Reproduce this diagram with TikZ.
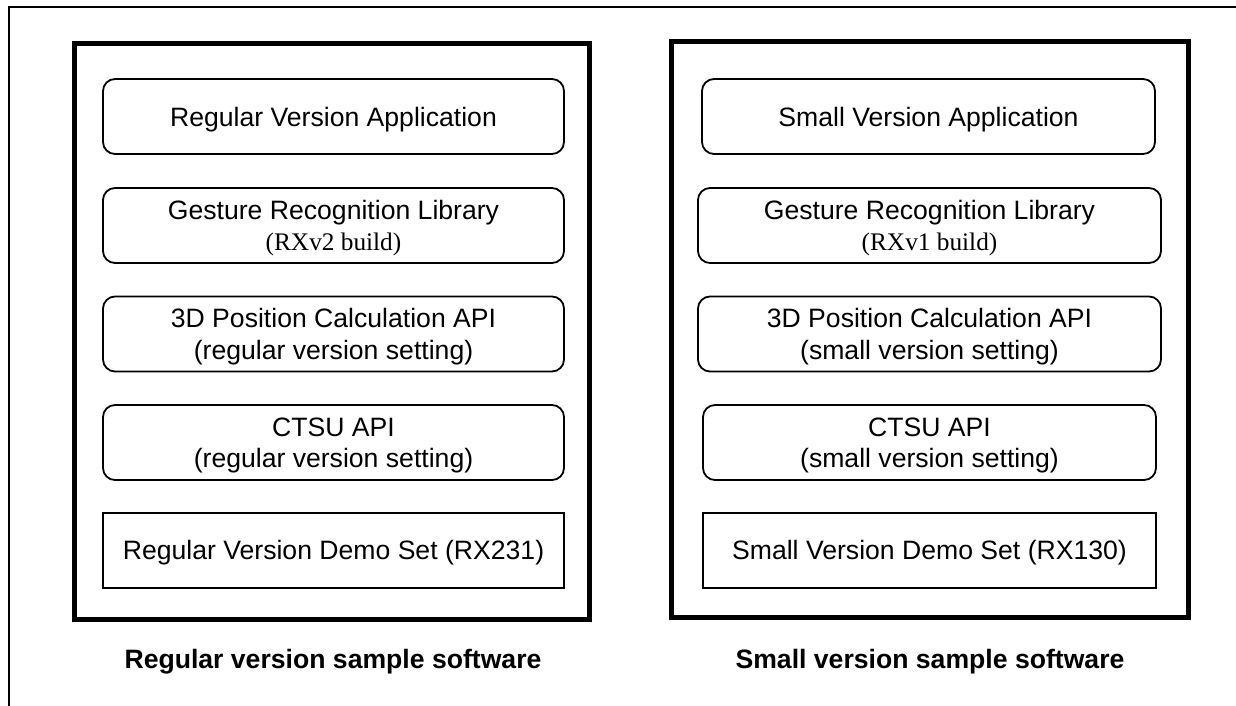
\documentclass[tikz,border=0pt]{standalone}
\usepackage{fontspec}
\setmainfont{Liberation Sans}
\newfontfamily\timesf{Liberation Serif}
\begin{document}
\begin{tikzpicture}[x=1pt,y=-1pt,
  rbox/.style={draw, line width=1.8pt, rounded corners=12pt, inner sep=0pt, align=center,
    font=\fontsize{26.6}{31.5}\selectfont, minimum height=75pt, text depth=-8pt},
  one/.style={text depth=-1pt},
  sbox/.style={draw, line width=1.6pt, inner sep=0pt, align=center,
    font=\fontsize{26.6}{31.5}\selectfont, minimum height=75pt, text depth=1.5pt},
  frame/.style={draw, line width=5pt, inner sep=0pt},
  caption/.style={font=\fontsize{26.6}{30}\selectfont\bfseries, inner sep=0pt}]
\useasboundingbox (0,0) rectangle (1236,706);
\coordinate (otl) at (9,7);
\coordinate (otr) at (1240,7);
\coordinate (obl) at (9,710);
\draw[line width=1.5pt] (obl) -- (otl) -- (otr);
% frames
\node[frame, minimum width=515pt, minimum height=575pt] (lframe) at (331.5,331.5) {};
\node[frame, minimum width=517pt, minimum height=575pt] (rframe) at (929.5,329.5) {};
% left column
\node[rbox, one, minimum width=461pt] (lapp) at (333.5,116.5) {Regular Version Application};
\node[rbox, minimum width=461pt] (lges) at (333.5,225.5) {Gesture Recognition Library\\{\fontsize{25.3}{30}\selectfont\timesf (RXv2 build)}};
\node[rbox, minimum width=461pt] (l3d) at (333.5,334) {3D Position Calculation API\\(regular version setting)};
\node[rbox, minimum width=461pt] (lctsu) at (333.5,442.5) {CTSU API\\(regular version setting)};
\node[sbox, minimum width=461pt] (ldemo) at (333.5,550.5) {Regular Version Demo Set (RX231)};
% right column
\node[rbox, one, minimum width=453pt] (rapp) at (928.5,116.5) {Small Version Application};
\node[rbox, minimum width=463pt] (rges) at (929.5,225.5) {Gesture Recognition Library\\{\fontsize{25.3}{30}\selectfont\timesf (RXv1 build)}};
\node[rbox, minimum width=463pt] (r3d) at (929.5,334) {3D Position Calculation API\\(small version setting)};
\node[rbox, minimum width=453pt] (rctsu) at (929.5,442.5) {CTSU API\\(small version setting)};
\node[sbox, minimum width=453pt] (rdemo) at (929.5,550.5) {Small Version Demo Set (RX130)};
% captions
\node[caption] (lcap) at (333,662) {Regular version sample software};
\node[caption] (rcap) at (930,662) {Small version sample software};
\end{tikzpicture}
\end{document}
